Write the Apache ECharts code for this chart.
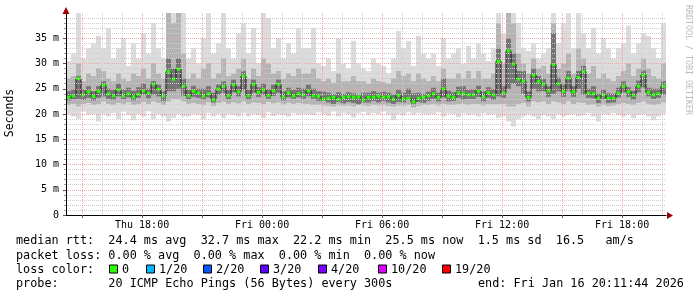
<!DOCTYPE html>
<html><head><meta charset="utf-8">
<script src="https://cdn.jsdelivr.net/npm/echarts@6/dist/echarts.min.js"></script>
<style>html,body{margin:0;padding:0;background:#fff}#c{width:697px;height:297px}</style>
</head><body><div id="c"></div>
<script>
// time axis in hours since Thu 00:00
const startHour = 14 + 11/60 + 44/3600;   // Thu 14:11:44
const endHour = startHour + 30;           // Fri 20:11:44
const stepHours = 0.25;
const tickLabelHours = [18, 24, 30, 36, 42];
const tickLabels = ['Thu 18:00', 'Fri 00:00', 'Fri 06:00', 'Fri 12:00', 'Fri 18:00'];
const majorGridHours = [15, 18, 21, 24, 27, 30, 33, 36, 39, 42];
const minorGridHours = [16, 17, 19, 20, 22, 23, 25, 26, 28, 29, 31, 32, 34, 35, 37, 38, 40, 41, 43, 44];

// median rtt (ms)
const median = [
 23.3,23.6,27.0,23.8,24.4,23.5,24.5,25.7,24.0,23.6,24.8,23.6,24.0,23.4,23.9,24.6,24.1,25.9,24.9,23.6,28.4,26.9,28.9,25.5,
 23.6,24.5,24.2,23.6,24.0,22.8,24.9,25.5,23.6,25.8,24.4,27.5,23.6,25.9,24.3,24.8,23.6,24.6,25.9,23.4,24.2,23.6,24.0,23.8,
 24.6,23.6,23.5,22.9,23.1,23.3,22.9,23.3,23.4,23.3,23.4,22.8,23.3,23.3,23.5,23.3,23.4,22.9,23.7,22.9,23.1,22.4,23.1,23.3,
 23.6,24.0,23.3,25.0,23.5,23.3,24.2,24.0,23.8,23.8,24.5,23.4,24.2,23.8,30.4,24.2,32.5,29.9,26.9,26.5,23.3,27.7,26.4,25.9,
 24.6,29.8,26.0,24.5,27.1,24.4,27.2,28.4,24.1,24.0,23.1,23.8,23.1,23.1,24.1,25.5,24.4,23.7,25.5,27.7,24.3,23.8,24.0,25.5
];
// inner smoke (darkest band)
const innerLo = [
 22.7,22.9,23.0,22.8,23.2,22.7,23.2,23.5,23.0,22.8,23.5,22.9,23.3,22.7,23.2,23.8,23.1,23.8,23.5,22.6,24.5,24.5,25.0,23.6,
 22.9,23.4,23.2,22.9,23.3,22.3,23.8,24.2,22.9,24.3,23.5,24.8,22.9,24.2,23.4,23.8,23.0,23.6,24.2,22.7,23.3,23.0,23.3,23.0,
 23.5,23.0,22.6,22.6,22.3,22.0,22.4,22.1,22.4,22.2,21.9,22.3,22.3,22.6,22.3,22.6,22.3,22.0,22.4,22.3,22.8,21.9,22.4,22.2,
 22.6,23.0,22.5,23.2,22.5,22.6,23.2,22.9,23.0,23.0,23.4,22.5,23.2,22.8,23.5,23.2,25.0,26.0,25.5,24.0,22.5,25.0,24.5,24.5,
 23.4,24.0,24.5,23.4,24.7,23.4,25.0,23.8,23.2,23.1,22.2,23.0,22.2,22.3,23.3,24.3,23.4,22.8,24.3,25.2,23.5,23.0,23.2,23.8
];
const innerHi = [
 24.5,24.8,27.5,24.8,25.5,24.5,25.5,26.5,25.0,24.8,26.0,24.8,25.2,24.6,25.3,26.0,25.0,26.5,25.8,24.5,31.0,29.0,31.0,27.0,
 24.8,25.6,25.0,25.0,25.5,24.2,25.8,26.5,24.8,26.8,25.5,28.5,24.8,26.8,25.3,26.0,24.9,25.8,26.8,24.5,25.2,24.8,25.2,25.0,
 25.8,25.0,24.5,24.4,24.2,23.9,24.3,24.0,24.3,24.1,23.8,24.2,24.2,24.5,24.2,24.4,24.2,23.9,24.8,24.2,25.0,24.1,24.2,24.0,
 24.4,25.2,24.2,27.0,24.6,24.3,25.4,25.5,24.8,24.9,25.6,24.5,25.3,24.9,33.0,25.5,35.0,32.0,28.5,28.5,24.4,29.0,27.5,27.0,
 25.5,36.0,27.2,25.8,28.5,25.5,28.5,29.5,25.0,25.5,24.0,24.8,24.1,24.0,25.2,26.5,25.3,24.6,26.6,28.6,25.2,25.0,25.0,26.5
];
// middle smoke band
const midLo = [
 21.8,22.0,21.5,22.0,22.2,21.8,22.0,22.5,22.0,21.8,22.2,22.0,22.3,21.8,22.0,22.4,22.0,22.5,22.2,21.8,22.5,23.0,23.0,22.5,
 22.0,22.2,22.0,21.8,22.3,21.6,22.2,22.4,22.0,22.3,22.1,22.5,22.0,22.3,22.2,22.0,22.4,22.1,22.3,21.9,22.2,22.0,22.2,22.0,
 22.0,21.8,21.8,21.7,21.6,21.5,21.7,21.6,21.7,21.5,21.8,21.7,21.6,21.8,21.7,21.8,21.6,21.5,21.7,21.6,21.8,21.3,21.6,21.8,
 21.8,22.0,21.7,22.0,21.8,21.8,22.0,22.0,21.8,22.0,22.0,21.7,22.0,21.9,22.0,22.0,21.5,21.5,22.0,22.2,21.5,22.5,22.3,22.5,
 22.0,22.5,22.3,22.0,22.5,22.0,22.3,22.2,21.8,21.9,21.5,21.8,21.6,21.7,22.0,22.2,22.0,21.8,22.2,22.5,22.0,21.8,22.0,22.3
];
const midHi = [
 27.0,27.5,30.0,26.5,28.0,27.5,29.0,28.5,27.0,26.5,28.0,27.0,26.5,28.0,27.5,29.0,27.0,30.0,28.0,27.0,40.0,38.0,40.0,32.0,
 27.0,28.0,27.0,29.0,30.0,27.0,28.0,31.0,27.5,28.0,29.0,31.0,27.0,29.0,27.5,31.0,30.0,28.0,28.5,27.0,28.0,27.5,29.0,28.0,
 28.0,29.0,27.0,26.5,27.0,26.2,28.0,26.5,26.5,27.5,26.5,26.5,26.0,27.0,26.5,26.3,26.0,27.0,28.5,27.5,28.0,26.5,28.0,27.0,
 26.5,27.5,26.5,29.0,27.0,27.0,28.0,27.0,28.5,27.0,28.5,27.0,27.0,28.0,38.0,30.0,40.0,38.0,32.0,30.0,28.0,31.0,29.0,29.5,
 28.0,38.0,29.0,30.0,32.0,28.0,33.0,31.0,28.0,29.5,27.0,28.0,27.0,26.5,27.5,28.5,30.0,27.5,29.0,31.0,29.0,27.5,27.0,30.0
];
// outer smoke (min / max ping)
const outerLo = [
 20.0,19.5,19.0,20.5,19.8,20.0,18.5,20.0,19.5,20.2,19.0,20.5,19.8,18.8,20.0,19.5,20.5,19.0,20.0,19.5,18.5,19.2,20.0,19.5,
 19.5,20.0,19.8,19.0,20.2,19.5,20.0,19.2,20.0,19.8,19.5,20.2,19.5,20.0,19.8,19.2,20.3,19.6,20.0,19.8,19.5,20.2,19.8,20.0,
 20.0,19.8,20.3,20.0,19.6,20.5,19.5,20.2,20.0,19.3,20.1,20.4,19.8,20.2,20.0,20.5,19.8,18.8,20.0,19.7,20.3,19.9,20.2,20.0,
 19.8,20.0,20.3,19.5,20.1,20.0,19.4,20.2,19.8,20.0,19.5,20.2,19.8,20.0,19.2,19.5,18.5,17.5,19.0,19.5,20.0,19.5,19.0,19.8,
 19.5,19.0,20.0,19.5,19.8,20.0,19.5,19.8,20.2,19.5,18.5,20.0,19.8,20.2,19.8,19.5,20.0,19.2,19.8,20.0,19.5,18.8,19.5,20.0
];
const outerHi = [
 30.5,32.0,40.0,31.0,33.0,34.0,35.5,33.0,37.0,31.0,33.0,35.0,29.5,34.0,31.0,36.0,32.0,38.0,33.0,31.0,40.0,40.0,40.0,40.0,
 31.0,33.0,30.0,35.0,40.0,32.0,34.0,40.0,33.0,31.0,36.0,38.0,32.0,37.0,30.0,40.0,39.0,33.0,35.0,31.0,34.0,32.0,37.0,33.0,
 33.0,37.0,30.0,29.5,31.0,28.5,35.0,30.0,29.0,34.5,30.0,29.0,28.5,31.0,30.0,29.5,28.0,31.0,36.5,33.0,34.5,29.5,35.5,32.0,
 31.0,32.0,29.5,35.0,31.0,32.0,33.0,30.0,33.5,31.0,34.0,32.0,30.5,33.0,40.0,36.0,40.0,40.0,38.0,33.0,32.5,34.0,31.0,32.0,
 33.0,40.0,34.0,38.0,40.0,33.0,40.0,36.0,33.0,37.0,32.0,35.0,33.0,31.0,33.0,34.0,37.5,32.0,34.0,36.0,35.5,33.0,31.0,38.0
];

const statLines = [
  'median rtt:  24.4 ms avg  32.7 ms max  22.2 ms min  25.5 ms now  1.5 ms sd  16.5   am/s',
  'packet loss: 0.00 % avg  0.00 % max  0.00 % min  0.00 % now'
];
const lossTitle = 'loss color:';
const lossLabels = ['0', '1/20', '2/20', '3/20', '4/20', '10/20', '19/20'];
const lossColors = ['#26ff00', '#00b8ff', '#0059ff', '#5e00ff', '#7e00ff', '#dd00ff', '#ff0000'];
const probeLine = 'probe:       20 ICMP Echo Pings (56 Bytes) every 300s';
const endLine = 'end: Fri Jan 16 20:11:44 2026';
const yAxisTitle = 'Seconds';
const watermark = 'RRDTOOL / TOBI OETIKER';

const MONO = '"DejaVu Sans Mono", monospace';
const MAJOR_COLOR = '#f2a4a4';
const MINOR_COLOR = '#cdcdcd';
const xs = median.map((_, i) => startHour + (i + 0.5) * stepHours);

function band(lo, hi, color) {
  return {
    type: 'custom', z: 2, silent: true, clip: true,
    data: lo.map((v, i) => [xs[i], v, hi[i]]),
    encode: { x: 0, y: [1, 2] },
    renderItem: (params, api) => {
      const x = api.value(0);
      const a = api.coord([x - stepHours / 2, api.value(2)]);
      const b = api.coord([x + stepHours / 2, api.value(1)]);
      return { type: 'rect', shape: { x: a[0], y: a[1], width: b[0] - a[0], height: b[1] - a[1] }, style: { fill: color } };
    }
  };
}

const chart = echarts.init(document.getElementById('c'), null, { renderer: 'canvas' });
chart.setOption({
  animation: false,
  backgroundColor: '#ffffff',
  grid: { left: 66, right: 31, top: 13, bottom: 82 },
  xAxis: {
    type: 'value', min: startHour, max: endHour, z: 10,
    axisLine: { show: true, lineStyle: { color: '#000', width: 1 } },
    axisTick: { show: false },
    axisLabel: { customValues: tickLabelHours, margin: 5, color: '#000', fontFamily: MONO, fontSize: 10,
      formatter: v => tickLabels[tickLabelHours.indexOf(Math.round(v))] || '' },
    splitLine: { show: false }
  },
  yAxis: {
    type: 'value', min: 0, max: 40, interval: 5, z: 10,
    axisLine: { show: true, lineStyle: { color: '#000', width: 1 } },
    axisTick: { show: true, length: 3, lineStyle: { color: '#555' } },
    minorTick: { show: true, splitNumber: 5, length: 2, lineStyle: { color: '#999' } },
    axisLabel: { margin: 7, color: '#000', fontFamily: MONO, fontSize: 10,
      formatter: v => v === 0 ? '0' : (v >= 40 ? '' : v + ' m') },
    splitLine: { show: true, showMinLine: false, showMaxLine: false, lineStyle: { color: MAJOR_COLOR, type: [1, 1], width: 1 } },
    minorSplitLine: { show: true, lineStyle: { color: MINOR_COLOR, type: [1, 1], width: 1 } }
  },
  series: [
    band(outerLo, outerHi, '#dcdcdc'),
    band(midLo, midHi, '#b4b4b4'),
    band(innerLo, innerHi, '#747474'),
    {
      type: 'line', z: 3, silent: true, step: 'middle', symbol: 'none',
      data: median.map((v, i) => [xs[i], v]),
      lineStyle: { color: '#1a1a1a', width: 1 }
    },
    {
      type: 'custom', z: 4, silent: true, clip: true,
      data: median.map((v, i) => [xs[i], v]),
      encode: { x: 0, y: 1 },
      renderItem: (params, api) => {
        const p = api.coord([api.value(0), api.value(1)]);
        return { type: 'rect', shape: { x: p[0] - 2, y: p[1] - 1.5, width: 4, height: 3 }, style: { fill: '#26ff00' } };
      }
    }
  ]
});

// decorations: vertical grid (positions via the chart's own x scale), arrows, texts, legend
const o = chart.convertToPixel({ gridIndex: 0 }, [startHour, 0]);
const tr = chart.convertToPixel({ gridIndex: 0 }, [endHour, 40]);
const ox = Math.round(o[0]), oy = Math.round(o[1]);
const g = [];
function vLine(h, color, tick) {
  const x = Math.round(chart.convertToPixel({ gridIndex: 0 }, [h, 0])[0]) + 0.5;
  g.push({ type: 'line', z: 15, silent: true, shape: { x1: x, y1: tr[1], x2: x, y2: oy },
    style: { stroke: color, lineWidth: 1, lineDash: [1, 1] } });
  if (tick) g.push({ type: 'line', z: 15, silent: true, shape: { x1: x, y1: oy, x2: x, y2: oy + 3 },
    style: { stroke: '#555', lineWidth: 1 } });
}
minorGridHours.forEach(h => vLine(h, MINOR_COLOR, false));
majorGridHours.forEach(h => vLine(h, MAJOR_COLOR, true));
g.push({ type: 'polygon', shape: { points: [[ox - 3.5, tr[1] + 1], [ox + 3.5, tr[1] + 1], [ox, tr[1] - 6]] }, style: { fill: '#9b0000' }, z: 20 });
g.push({ type: 'polygon', shape: { points: [[tr[0] + 1, oy - 3], [tr[0] + 1, oy + 4], [tr[0] + 7, oy + 0.5]] }, style: { fill: '#9b0000' }, z: 20 });
g.push({ type: 'text', x: 10, y: 113, rotation: Math.PI / 2, z: 20,
  style: { text: yAxisTitle, font: '11.5px ' + MONO, fill: '#000', align: 'center', verticalAlign: 'middle' } });
g.push({ type: 'text', x: 688, y: 60, rotation: -Math.PI / 2, z: 20,
  style: { text: watermark, font: '8.3px ' + MONO, fill: '#bbbbbb', align: 'center', verticalAlign: 'middle' } });
const rowY = [241, 255.5, 269.5, 283.5];
const tf = '11.8px ' + MONO;
statLines.forEach((t, i) => g.push({ type: 'text', x: 16, y: rowY[i], z: 20,
  style: { text: t, font: tf, fill: '#000', verticalAlign: 'middle' } }));
g.push({ type: 'text', x: 16, y: rowY[2], z: 20, style: { text: lossTitle, font: tf, fill: '#000', verticalAlign: 'middle' } });
const boxX = [109, 146, 203, 260, 318, 378, 442];
lossLabels.forEach((t, i) => {
  g.push({ type: 'rect', shape: { x: boxX[i] + 0.5, y: rowY[2] - 4.5, width: 8, height: 8 }, z: 20,
    style: { fill: lossColors[i], stroke: '#000', lineWidth: 1 } });
  g.push({ type: 'text', x: boxX[i] + 13, y: rowY[2], z: 20, style: { text: t, font: tf, fill: '#000', verticalAlign: 'middle' } });
});
g.push({ type: 'text', x: 16, y: rowY[3], z: 20, style: { text: probeLine, font: tf, fill: '#000', verticalAlign: 'middle' } });
g.push({ type: 'text', x: 478, y: rowY[3], z: 20, style: { text: endLine, font: tf, fill: '#000', verticalAlign: 'middle' } });
chart.setOption({ graphic: g });
</script>
</body></html>
